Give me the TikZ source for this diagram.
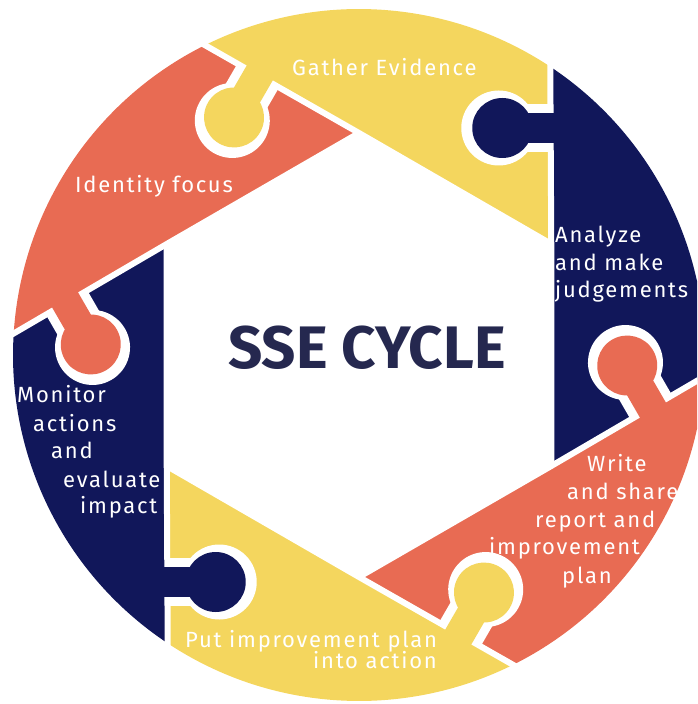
\documentclass[tikz,border=0pt]{standalone}
\usepackage{fontspec}
\setmainfont{Fira Sans}
\newfontfamily\stepfont[LetterSpace=8]{Fira Sans}

\definecolor{sunyellow}{HTML}{F4D65E}
\definecolor{deepnavy}{HTML}{11175A}
\definecolor{coral}{HTML}{E86B53}
\definecolor{inkblue}{HTML}{25284F}

\tikzset{
  steplabel/.style={text=white,inner sep=0pt,anchor=base west,font=\stepfont\fontsize{22}{26}\selectfont},
}

\begin{document}
\begin{tikzpicture}[x=1pt,y=1pt]
\useasboundingbox (-359,-349) rectangle (338,355);
\clip (-359,-349) rectangle (338,355);
% six pieces between the hexagon (r=222) and the rim (r=346)
\foreach \k/\col in {0/sunyellow,1/deepnavy,2/coral,3/sunyellow,4/deepnavy,5/coral}
  \fill[\col,rotate=-60*\k] (90:222) -- (116.45:346) arc[start angle=116.45,end angle=56.45,radius=346] -- (30:222) -- cycle;
% white gaps between the pieces
\foreach \k in {0,...,5}
  \draw[white,line width=6,rotate=-60*\k] ([shift={(150:15)}]116.45:346) -- (90:222) -- (30:222);
% puzzle knobs, each one pushed into the previous piece
\foreach \k/\col in {0/sunyellow,1/deepnavy,2/coral,3/sunyellow,4/deepnavy,5/coral}{
  \begin{scope}[rotate=-60*\k,shift={(90:222)},shift={(150:116)},rotate=-120]
    \fill[white] (0,-24) rectangle (52,24);
    \fill[white] (52.5,0) circle (37.5);
    \fill[\col] (-8,-15) rectangle (49,15);
    \fill[\col] (49,0) circle (30);
  \end{scope}
}

\node[text=inkblue,font=\fontsize{60}{60}\selectfont\bfseries,anchor=base west,inner sep=0pt] (title) at (-131,-13) {SSE CYCLE};

\foreach \txt/\x/\y [count=\i] in {Gather Evidence/-67/279, Identity focus/-284/162,
    Analyze/196/112, and make/196/84, judgements/196/57,
    Monitor/-342/-47, actions/-326/-76, and/-308/-103, evaluate/-296/-132, impact/-279/-158,
    Write/228/-116, and share/208/-144, report and/176/-172, improvement/130/-199, plan/203/-228,
    Put improvement plan/-174/-292, into action/-46/-313}
  \node[steplabel] (lab\i) at (\x,\y) {\txt};
\end{tikzpicture}
\end{document}
